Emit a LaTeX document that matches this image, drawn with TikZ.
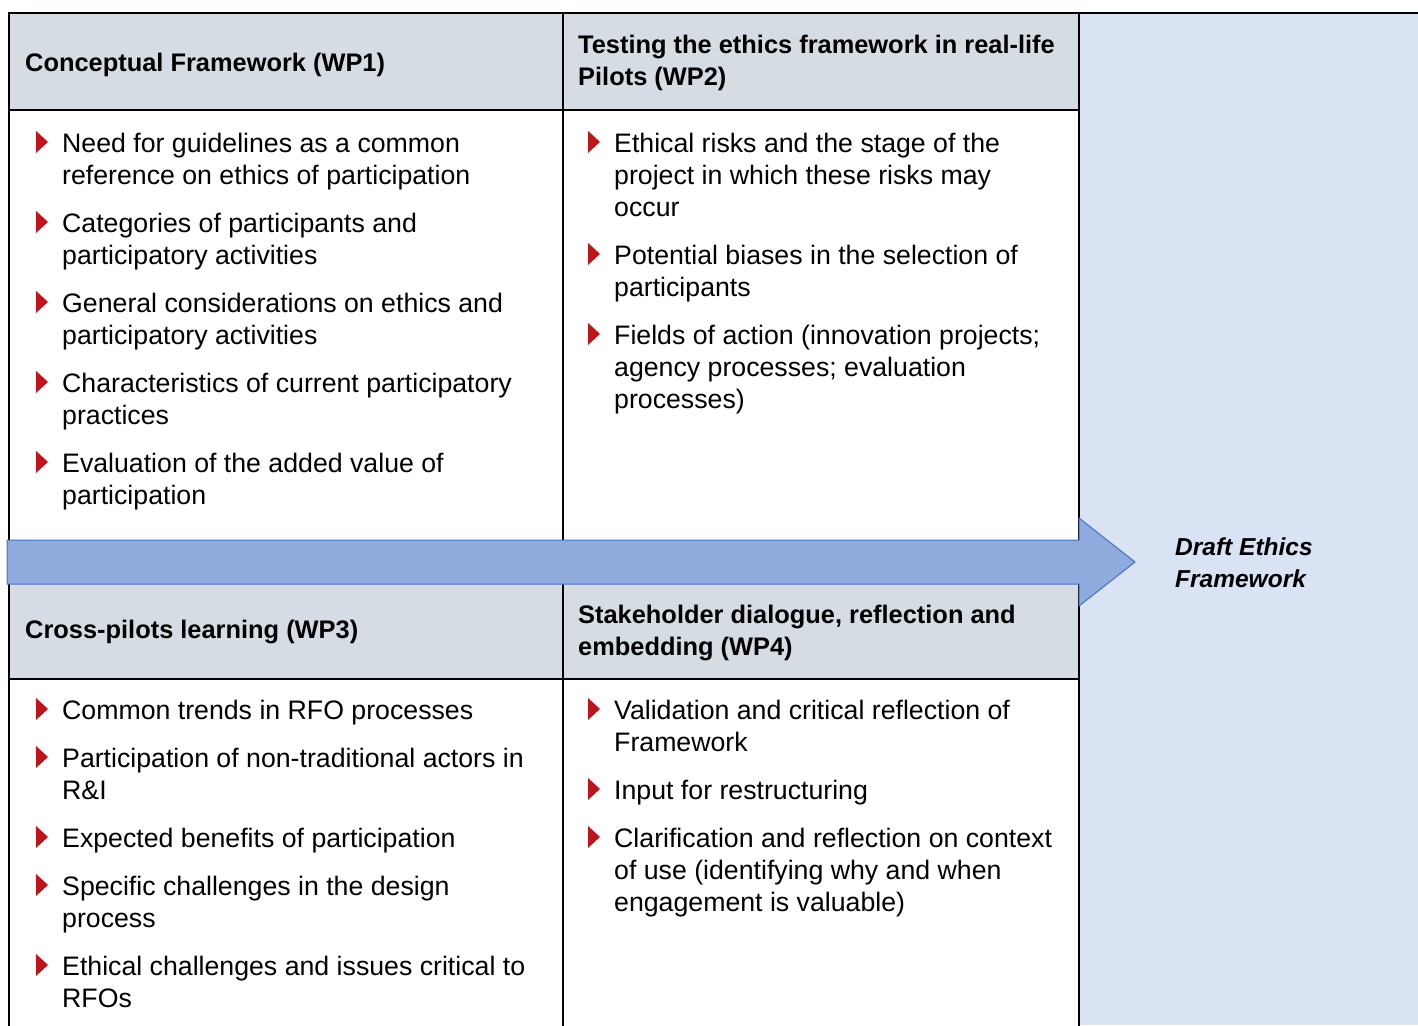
\documentclass[tikz,border=0pt]{standalone}
\usepackage{fontspec}
\setmainfont{Liberation Sans}
\usepackage{xcolor}
\usetikzlibrary{positioning}
\usetikzlibrary{calc}

\definecolor{hdrgray}{HTML}{D6DCE4}
\definecolor{panelblue}{HTML}{DAE3F3}
\definecolor{arrowfill}{HTML}{8FAADC}
\definecolor{arrowedge}{HTML}{4472C4}
\definecolor{bulletred}{HTML}{C0141C}

\begin{document}
\begin{tikzpicture}[
    x=1pt, y=-1pt,
    % nodes sit on the baseline of their last line
    item/.style={inner sep=0pt, align=left, anchor=base west,
        font=\fontsize{26.7}{32}\selectfont},
    head/.style={inner sep=0pt, align=left, anchor=base west,
        font=\fontsize{25.4}{32}\selectfont\bfseries},
    result/.style={inner sep=0pt, align=left, anchor=base west,
        font=\fontsize{24.5}{32}\selectfont\bfseries\itshape},
    grid/.style={line width=2pt, black},
    bigarrow/.style={fill=arrowfill, draw=arrowedge, line width=1pt, line join=miter},
    bullet/.style={fill=bulletred}
]
    \useasboundingbox (0,0) rectangle (1418,1025);

    % Backgrounds
    \fill[panelblue] (1079,13) rectangle (1418,1025);
    \fill[hdrgray] (9,13) rectangle (1079,110);
    \fill[hdrgray] (9,584) rectangle (1079,679);

    % Table lines
    \draw[grid] (9,1026) -- (9,13) -- (1418,13);
    \draw[grid] (563,13) -- (563,1026);
    \draw[grid] (1079,13) -- (1079,1026);
    \draw[grid] (9,110) -- (1079,110);
    \draw[grid] (9,679) -- (1079,679);

    % Headers
    \node[head] (conc) at (25,71) {Conceptual Framework (WP1)};
    \node[head] (test) at (578,85) {Testing the ethics framework in real-life\\Pilots (WP2)};
    \node[head] (cross) at (25,638.5) {Cross-pilots learning (WP3)};
    \node[head] (stake) at (578,655) {Stakeholder dialogue, reflection and\\embedding (WP4)};

    % WP1 items
    \node[item] (conc1) at (62,184) {Need for guidelines as a common\\reference on ethics of participation};
    \node[item] (conc2) at (62,264) {Categories of participants and\\participatory activities};
    \node[item] (conc3) at (62,344) {General considerations on ethics and\\participatory activities};
    \node[item] (conc4) at (62,424) {Characteristics of current participatory\\practices};
    \node[item] (conc5) at (62,504) {Evaluation of the added value of\\participation};

    % WP2 items
    \node[item] (test1) at (614,216) {Ethical risks and the stage of the\\project in which these risks may\\occur};
    \node[item] (test2) at (614,296) {Potential biases in the selection of\\participants};
    \node[item] (test3) at (614,408) {Fields of action (innovation projects;\\agency processes; evaluation\\processes)};

    % WP3 items
    \node[item] (cross1) at (62,719) {Common trends in RFO processes};
    \node[item] (cross2) at (62,799) {Participation of non-traditional actors in\\R\&I};
    \node[item] (cross3) at (62,847) {Expected benefits of participation};
    \node[item] (cross4) at (62,927) {Specific challenges in the design\\process};
    \node[item] (cross5) at (62,1007) {Ethical challenges and issues critical to\\RFOs};

    % WP4 items
    \node[item] (stake1) at (614,751) {Validation and critical reflection of\\Framework};
    \node[item] (stake2) at (614,799) {Input for restructuring};
    \node[item] (stake3) at (614,911) {Clarification and reflection on context\\of use (identifying why and when\\engagement is valuable)};

    % Red bullets (\k = lines above the last one)
    \foreach \n/\k in {conc1/1,conc2/1,conc3/1,conc4/1,conc5/1,test1/2,test2/1,test3/2,
                       cross1/0,cross2/1,cross3/0,cross4/1,cross5/1,stake1/1,stake2/0,stake3/2}
        \fill[bullet] ($(\n.base west)+(-26,-21-32*\k)$) -- ++(0,22) -- ++(12,-11) -- cycle;

    % Arrow to the result
    \draw[bigarrow] (7,540) -- (1079,540) -- (1079,518) -- (1135,562)
        -- (1079,606) -- (1079,584) -- (7,584) -- cycle;

    % Result
    \node[result] (draft) at (1175,587) {Draft Ethics\\Framework};
\end{tikzpicture}
\end{document}
